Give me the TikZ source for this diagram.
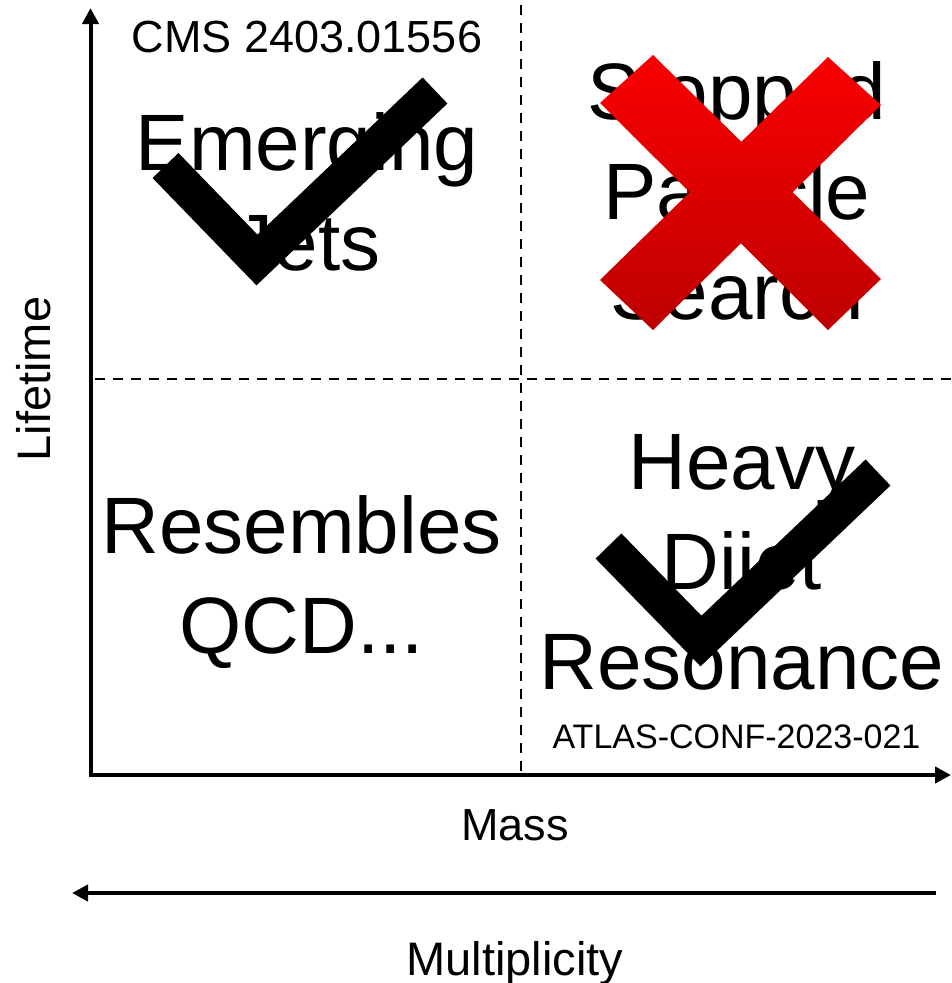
\documentclass[tikz,border=0pt]{standalone}
\usepackage{fontspec}
\setmainfont{Liberation Sans}
\usetikzlibrary{arrows.meta}
\definecolor{xtop}{RGB}{250,0,0}
\definecolor{xbot}{RGB}{190,0,0}
\tikzset{
  axisline/.style={line width=4pt, line join=miter, -{Triangle[length=16pt,width=16pt]}},
  divider/.style={line width=2.5pt, dash pattern=on 10pt off 8pt},
  bigtext/.style={font=\fontsize{80}{100}\selectfont, align=center, anchor=base, inner sep=0pt},
  labeltext/.style={font=\fontsize{45}{54}\selectfont, anchor=base, inner sep=0pt},
  widelabel/.style={font=\fontsize{47}{56}\selectfont, anchor=base, inner sep=0pt},
  reftext/.style={font=\fontsize{34}{40}\selectfont, anchor=base, inner sep=0pt},
  checkmark/.style={line width=36pt, line cap=butt, line join=miter, draw=black},
  crossarm/.style={top color=xtop, bottom color=xbot, draw=none},
}
\begin{document}
\begin{tikzpicture}[x=1pt,y=-1pt]
\useasboundingbox (0,0) rectangle (952,983);

% coordinates
\coordinate (O) at (90.5,775);
\coordinate (ytip) at (90.5,8);
\coordinate (xtip) at (951,775);
\coordinate (dvt) at (521,5);
\coordinate (dvb) at (521,773);
\coordinate (dhl) at (95,379);
\coordinate (dhr) at (952,379);
\coordinate (mr) at (936,893);
\coordinate (ml) at (72,893);

% dividers
\draw[divider] (dvt) -- (dvb);
\draw[divider] (dhl) -- (dhr);

% axes
\draw[axisline, {Triangle[length=16pt,width=16pt]}-{Triangle[length=16pt,width=16pt]}] (ytip) -- (O) -- (xtip);
\draw[axisline] (mr) -- (ml);

% texts (base anchor = baseline of the last line)
\node[labeltext] (cms) at (307,52) {CMS 2403.01556};
\node[bigtext] (ej) at (307,270) {Emerging\\Jets};
\node[bigtext] (sp) at (737,319) {Stopped\\Particle\\Search};
\node[bigtext] (qcd) at (301.5,653) {Resembles\\QCD...};
\node[bigtext] (hd) at (742,689) {Heavy\\Dijet\\Resonance};
\node[reftext] (atlas) at (736.5,748) {ATLAS-CONF-2023-021};
\node[labeltext] (mass) at (515,840) {Mass};
\node[widelabel] (mult) at (515,975) {Multiplicity};
\node[widelabel, rotate=90] (life) at (50,379) {Lifetime};

% check marks
\coordinate (c1a) at (165.5,165.5);
\coordinate (c1b) at (257,260);
\coordinate (c1c) at (435,90.5);
\draw[checkmark] (c1a) -- (c1b) -- (c1c);
\coordinate (c2a) at (608.5,546);
\coordinate (c2b) at (701,641);
\coordinate (c2c) at (878,472.5);
\draw[checkmark] (c2a) -- (c2b) -- (c2c);

% red cross
\shade[crossarm] (600,103) -- (653,55) -- (881,279) -- (828,330) -- cycle;
\shade[crossarm] (828,57) -- (881,105) -- (653,330) -- (600,280) -- cycle;
\end{tikzpicture}
\end{document}
